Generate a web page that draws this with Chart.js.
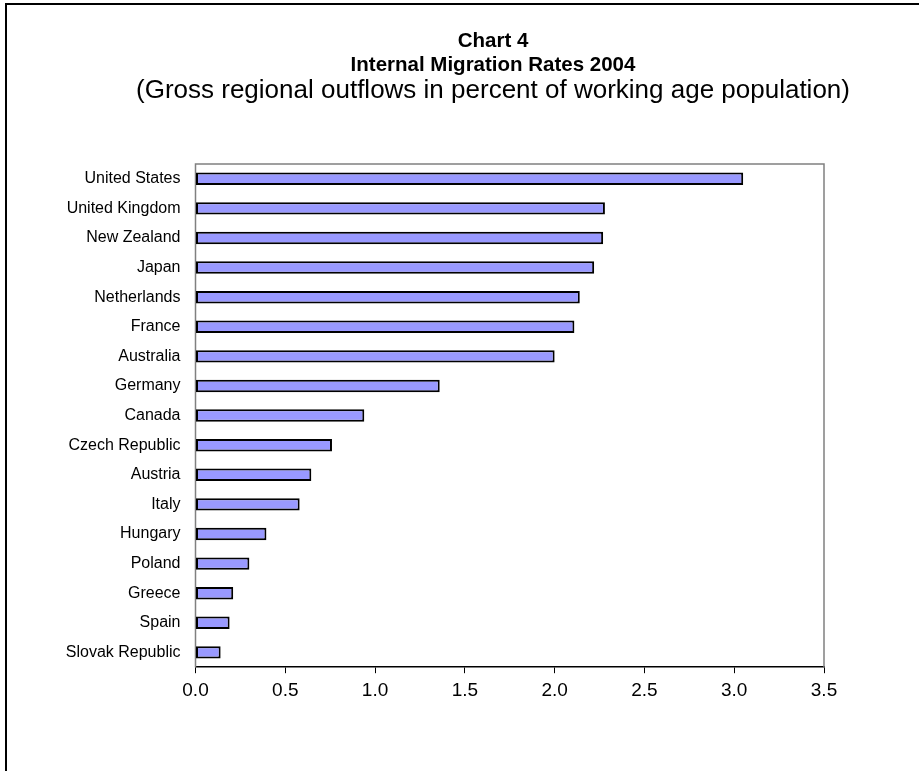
<!DOCTYPE html>
<html>
<head>
<meta charset="utf-8">
<script src="https://cdn.jsdelivr.net/npm/chart.js@4.4.1/dist/chart.umd.min.js"></script>
<style>
  html, body { margin: 0; padding: 0; background: #fff; overflow: hidden; width: 919px; height: 771px; }
  #frame { position: absolute; left: 5px; top: 3px; width: 1000px; height: 900px; border-left: 2px solid #000; border-top: 2px solid #000; }
  #wrap { position: absolute; left: 0; top: 0; width: 922px; height: 771px; }
</style>
</head>
<body>
<div id="frame"></div>
<div id="wrap"><canvas id="c" width="922" height="771"></canvas></div>
<script>
const titleLines = ['Chart 4', 'Internal Migration Rates 2004'];
const subtitleText = '(Gross regional outflows in percent of working age population)';
const categories = ['United States', 'United Kingdom', 'New Zealand', 'Japan', 'Netherlands', 'France', 'Australia', 'Germany', 'Canada', 'Czech Republic', 'Austria', 'Italy', 'Hungary', 'Poland', 'Greece', 'Spain', 'Slovak Republic'];
const rates = [3.05, 2.28, 2.27, 2.22, 2.14, 2.11, 2.00, 1.36, 0.94, 0.76, 0.645, 0.58, 0.395, 0.30, 0.21, 0.19, 0.14];
const xTickValues = [0, 0.5, 1.0, 1.5, 2.0, 2.5, 3.0, 3.5];

const FONT = '"Liberation Sans", Arial, sans-serif';

const plotFrame = {
  id: 'plotFrame',
  beforeDatasetsDraw(chart) {
    const a = chart.chartArea, ctx = chart.ctx;
    ctx.save();
    ctx.strokeStyle = '#808080';
    ctx.lineWidth = 1.5;
    ctx.beginPath();
    ctx.moveTo(a.left, a.bottom);
    ctx.lineTo(a.left, a.top);
    ctx.lineTo(a.right, a.top);
    ctx.lineTo(a.right, a.bottom);
    ctx.stroke();
    ctx.restore();
  }
};

new Chart(document.getElementById('c'), {
  type: 'bar',
  data: {
    labels: categories,
    datasets: [{
      data: rates,
      yAxisID: 'y',
      backgroundColor: '#9999FF',
      borderColor: '#000000',
      borderWidth: 2,
      borderSkipped: false,
      barPercentage: 0.42,
      categoryPercentage: 1.0
    }]
  },
  options: {
    indexAxis: 'y',
    responsive: false,
    animation: false,
    devicePixelRatio: 1,
    layout: { padding: { left: 64, right: 0, top: 0, bottom: 63 } },
    plugins: {
      legend: { display: false },
      tooltip: { enabled: false },
      title: {
        display: true,
        text: titleLines,
        color: '#000',
        font: { family: FONT, size: 20.5, weight: 'bold', lineHeight: 1.17 },
        padding: { top: 29, bottom: 0 }
      },
      subtitle: {
        display: true,
        text: subtitleText,
        color: '#000',
        font: { family: FONT, size: 26, weight: 'normal', lineHeight: 1.0 },
        padding: { top: 1, bottom: 60 }
      }
    },
    scales: {
      x: {
        type: 'linear',
        min: 0,
        max: 3.5,
        afterBuildTicks(scale) { scale.ticks = xTickValues.map(v => ({ value: v })); },
        ticks: {
          color: '#000',
          font: { family: FONT, size: 19 },
          padding: 6,
          maxRotation: 0,
          callback: v => Number(v).toFixed(1)
        },
        grid: { drawOnChartArea: false, drawTicks: true, tickLength: 6, color: '#000', lineWidth: 1 },
        border: { display: true, color: '#000', width: 1.5 }
      },
      y: {
        position: 'left',
        afterFit(scale) { scale.width = 131.5; },
        ticks: {
          color: '#000',
          font: { family: FONT, size: 16 },
          padding: 15,
          autoSkip: false
        },
        grid: { display: false, drawTicks: false },
        border: { display: false }
      },
      ySpace: {
        type: 'category',
        position: 'right',
        afterFit(scale) { scale.width = 98; },
        ticks: { display: false },
        grid: { display: false, drawTicks: false },
        border: { display: false }
      }
    }
  },
  plugins: [plotFrame]
});
</script>
</body>
</html>
